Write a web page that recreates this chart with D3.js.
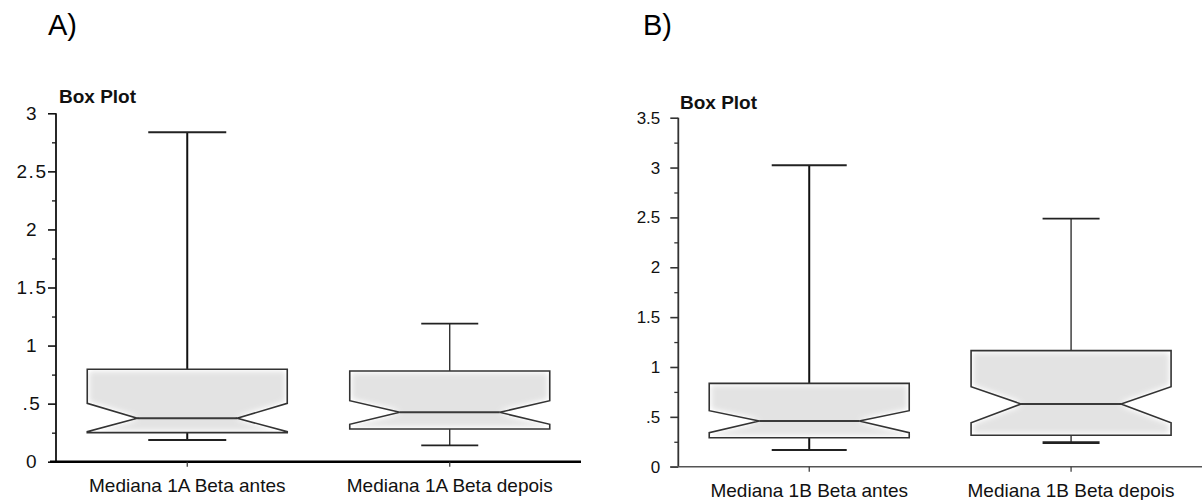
<!DOCTYPE html>
<html>
<head>
<meta charset="utf-8">
<script src="https://cdn.jsdelivr.net/npm/d3@7"></script>
<style>
  html, body { margin: 0; padding: 0; background: #fff; }
  svg { display: block; font-family: "Liberation Sans", Arial, sans-serif; }
</style>
</head>
<body>
<svg id="chart" width="1202" height="500"></svg>
<script>
// ---------- data ----------
const categoriesA = ["Mediana 1A Beta antes", "Mediana 1A Beta depois"];
const whiskerLowA  = [0.187, 0.141];
const q1A          = [0.250, 0.282];
const notchLowA    = [0.258, 0.322];
const medianA      = [0.374, 0.425];
const notchHighA   = [0.503, 0.525];
const q3A          = [0.796, 0.781];
const whiskerHighA = [2.837, 1.189];
const yTicksA      = [0, 0.5, 1, 1.5, 2, 2.5, 3];

const categoriesB = ["Mediana 1B Beta antes", "Mediana 1B Beta depois"];
const whiskerLowB  = [0.167, 0.241];
const q1B          = [0.291, 0.315];
const notchLowB    = [0.341, 0.441];
const medianB      = [0.458, 0.629];
const notchHighB   = [0.562, 0.802];
const q3B          = [0.836, 1.164];
const whiskerHighB = [3.023, 2.487];
const yTicksB      = [0, 0.5, 1, 1.5, 2, 2.5, 3, 3.5];

const panelLabels = ["A)", "B)"];
const titleText = "Box Plot";

const svg = d3.select("#chart");

// inner glow filter for box fill
const defs = svg.append("defs");
const f = defs.append("filter").attr("id", "glow").attr("x", "-5%").attr("y", "-5%").attr("width", "110%").attr("height", "110%");
f.append("feGaussianBlur").attr("in", "SourceAlpha").attr("stdDeviation", 3.5).attr("result", "blur");
f.append("feComposite").attr("in", "SourceAlpha").attr("in2", "blur").attr("operator", "out").attr("result", "inner");
f.append("feComponentTransfer").attr("in", "inner").attr("result", "inner2")
  .append("feFuncA").attr("type", "linear").attr("slope", 1.8);
f.append("feFlood").attr("flood-color", "#ffffff").attr("result", "white");
f.append("feComposite").attr("in", "white").attr("in2", "inner2").attr("operator", "in").attr("result", "glowc");
const fm = f.append("feMerge");
fm.append("feMergeNode").attr("in", "SourceGraphic");
fm.append("feMergeNode").attr("in", "glowc");

const fmt = d => d === 0 ? "0" : String(d).replace(/^0\./, ".");

function drawPanel(cfg) {
  const g = svg.append("g");
  const cats = cfg.categories;
  const data = cats.map((c, i) => ({
    cat: c,
    lo: cfg.wLow[i], q1: cfg.q1[i], nl: cfg.nLow[i], med: cfg.med[i],
    nh: cfg.nHigh[i], q3: cfg.q3[i], hi: cfg.wHigh[i], i
  }));

  const x = d3.scaleBand().domain(cats).range(cfg.xRange).paddingInner(0).paddingOuter(0);
  const y = d3.scaleLinear().domain(cfg.yDomain).range(cfg.yRange);

  // panel letter
  g.append("text").attr("x", cfg.letterX).attr("y", 35)
    .attr("font-size", 29).attr("fill", "#000").text(cfg.letter);

  // title
  g.append("text").attr("x", cfg.titleX).attr("y", cfg.titleY)
    .attr("font-size", 19).attr("font-weight", "bold").attr("fill", "#111").text(titleText);

  // minor ticks
  const minorVals = d3.range(cfg.yDomain[0] + 0.25, cfg.yDomain[1], 0.5);
  const minorAxis = g.append("g").attr("transform", `translate(${cfg.xRange[0]},0)`)
    .call(d3.axisLeft(y).tickValues(minorVals).tickSize(4).tickFormat(""));
  minorAxis.select(".domain").remove();
  minorAxis.selectAll("line").attr("stroke", cfg.axisColor).attr("stroke-width", 1.3);

  // major axis
  const yAxis = g.append("g").attr("transform", `translate(${cfg.xRange[0]},0)`)
    .call(d3.axisLeft(y).tickValues(cfg.yTicks).tickSize(8).tickPadding(cfg.tickPad).tickFormat(fmt));
  yAxis.select(".domain").remove();
  yAxis.selectAll("line").attr("stroke", cfg.axisColor).attr("stroke-width", 1.6);
  yAxis.selectAll("text").attr("font-size", cfg.tickFont).attr("fill", "#111")
    .attr("font-family", "'Liberation Sans', Arial, sans-serif")
    .attr("letter-spacing", cfg.tickSpacing)
    .attr("text-anchor", cfg.tickAnchor)
    .attr("x", cfg.tickAnchor === "middle" ? cfg.tickCenter : -(8 + cfg.tickPad));

  // y axis line
  g.append("line").attr("x1", cfg.xRange[0]).attr("x2", cfg.xRange[0])
    .attr("y1", y(cfg.yDomain[1])).attr("y2", y(0))
    .attr("stroke", cfg.axisColor).attr("stroke-width", 1.8);

  // x axis line
  g.append("line").attr("x1", cfg.xRange[0] - cfg.xAxisExt).attr("x2", cfg.xRange[1])
    .attr("y1", y(0)).attr("y2", y(0))
    .attr("stroke", cfg.xAxisColor).attr("stroke-width", cfg.xAxisWidth);

  // x ticks and labels
  const xc = d => x(d.cat) + x.bandwidth() / 2;
  g.selectAll(".xt").data(data).join("line")
    .attr("x1", xc).attr("x2", xc).attr("y1", y(0)).attr("y2", y(0) + 5)
    .attr("stroke", "#333").attr("stroke-width", 1.2);
  g.selectAll(".xl").data(data).join("text")
    .attr("x", xc).attr("y", cfg.xLabelY).attr("text-anchor", "middle")
    .attr("font-size", 19).attr("fill", "#111").text(d => d.cat);

  const bw = cfg.boxWidth;
  const inset = bw / 4;
  const boxPath = d => {
    const L = xc(d) - bw / 2, R = xc(d) + bw / 2;
    const pts = [
      [L, y(d.q3)], [R, y(d.q3)], [R, y(d.nh)], [R - inset, y(d.med)], [R, y(d.nl)],
      [R, y(d.q1)], [L, y(d.q1)], [L, y(d.nl)], [L + inset, y(d.med)], [L, y(d.nh)]
    ];
    return "M" + pts.map(p => p.join(",")).join("L") + "Z";
  };

  // whiskers
  g.selectAll(".wu").data(data).join("line")
    .attr("x1", xc).attr("x2", xc).attr("y1", d => y(d.q3)).attr("y2", d => y(d.hi))
    .attr("stroke", "#111").attr("stroke-width", (d) => cfg.whiskerW[d.i]);
  g.selectAll(".wd").data(data).join("line")
    .attr("x1", xc).attr("x2", xc).attr("y1", d => y(d.q1)).attr("y2", d => y(d.lo))
    .attr("stroke", "#111").attr("stroke-width", (d) => cfg.whiskerW[d.i]);
  g.selectAll(".cu").data(data).join("line")
    .attr("x1", d => xc(d) - cfg.capW[d.i] / 2).attr("x2", d => xc(d) + cfg.capW[d.i] / 2)
    .attr("y1", d => y(d.hi)).attr("y2", d => y(d.hi))
    .attr("stroke", "#222").attr("stroke-width", 1.8);
  g.selectAll(".cd").data(data).join("line")
    .attr("x1", d => xc(d) - cfg.capW[d.i] / 2).attr("x2", d => xc(d) + cfg.capW[d.i] / 2)
    .attr("y1", d => y(d.lo)).attr("y2", d => y(d.lo))
    .attr("stroke", "#222").attr("stroke-width", (d) => cfg.lowCapW[d.i]);

  // box fill
  g.selectAll(".bf").data(data).join("path")
    .attr("d", boxPath).attr("fill", "#e3e3e3").attr("filter", "url(#glow)");
  // median
  g.selectAll(".md").data(data).join("line")
    .attr("x1", d => xc(d) - bw / 2 + inset).attr("x2", d => xc(d) + bw / 2 - inset)
    .attr("y1", d => y(d.med)).attr("y2", d => y(d.med))
    .attr("stroke", "#3a3a3a").attr("stroke-width", 2);
  // box outline
  g.selectAll(".bo").data(data).join("path")
    .attr("d", boxPath).attr("fill", "none").attr("stroke", "#333").attr("stroke-width", 1.6)
    .attr("stroke-linejoin", "miter");
}

drawPanel({
  letter: panelLabels[0], letterX: 48,
  titleX: 59, titleY: 103,
  categories: categoriesA,
  wLow: whiskerLowA, q1: q1A, nLow: notchLowA, med: medianA, nHigh: notchHighA, q3: q3A, wHigh: whiskerHighA,
  yTicks: yTicksA, yDomain: [0, 3], yRange: [461.7, 113.3],
  xRange: [56, 581], xAxisExt: 6, xAxisColor: "#000", xAxisWidth: 2.5, axisColor: "#111",
  tickFont: 19, tickSpacing: 1.5, tickPad: 9, tickAnchor: "middle", tickCenter: -24,
  xLabelY: 492, boxWidth: 200,
  capW: [78, 57], whiskerW: [2, 1.2], lowCapW: [1.8, 1.8]
});

drawPanel({
  letter: panelLabels[1], letterX: 643,
  titleX: 680, titleY: 109,
  categories: categoriesB,
  wLow: whiskerLowB, q1: q1B, nLow: notchLowB, med: medianB, nHigh: notchHighB, q3: q3B, wHigh: whiskerHighB,
  yTicks: yTicksB, yDomain: [0, 3.5], yRange: [466.7, 117.7],
  xRange: [678.3, 1202], xAxisExt: 8, xAxisColor: "#555", xAxisWidth: 1.6, axisColor: "#333",
  tickFont: 17, tickSpacing: 0, tickPad: 10, tickAnchor: "end", tickCenter: 0,
  xLabelY: 497, boxWidth: 200,
  capW: [75, 57], whiskerW: [2, 1.2], lowCapW: [2, 2.6]
});
</script>
</body>
</html>
